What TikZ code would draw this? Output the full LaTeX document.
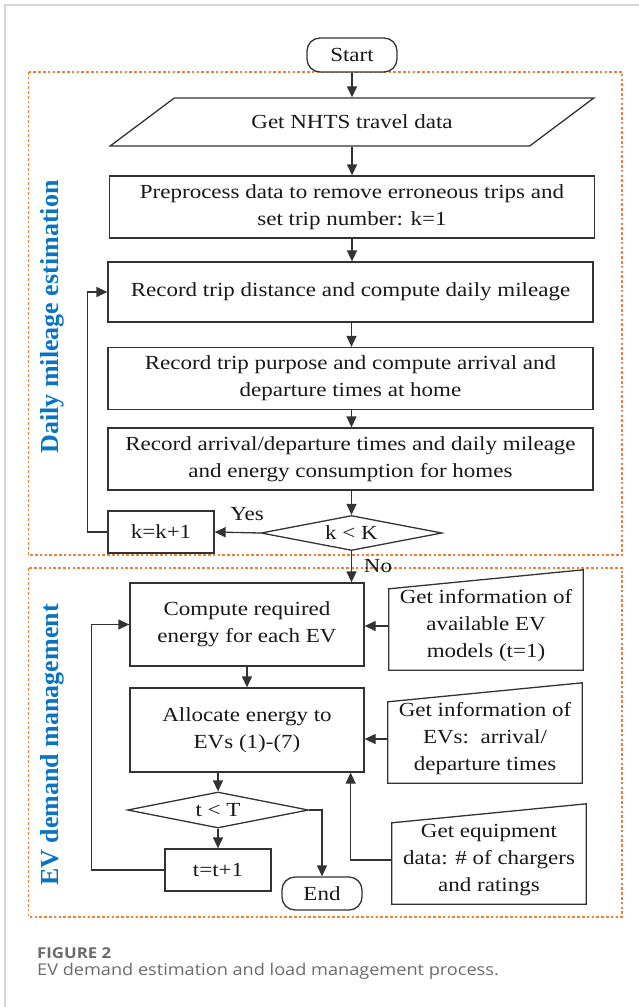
\documentclass[tikz,border=0pt]{standalone}
\usepackage{fontspec}
\setmainfont{Liberation Serif}[FakeStretch=1.15]
\newfontfamily\zonefont{Liberation Serif}
\newfontfamily\capfont{Open Sans}[FakeStretch=1.12]
\usepackage{xcolor}
\usepackage{tikz}
\usetikzlibrary{arrows.meta, positioning, shapes.geometric, calc}
\definecolor{ink}{HTML}{333333}
\definecolor{ocean}{HTML}{0A74C4}
\definecolor{tangerine}{HTML}{F07E3A}
\definecolor{mist}{HTML}{D6D6D6}
\definecolor{capgray}{HTML}{6B6B6B}

\begin{document}
\begin{tikzpicture}[x=1pt, y=-1pt,
      every node/.style={font=\fontsize{20}{27}\selectfont, text=black!90},
      proc/.style={draw=ink, line width=1.3pt, fill=white, minimum width=485pt,
                   minimum height=62pt, align=center, inner sep=2pt},
      task/.style={proc, minimum width=234pt, minimum height=83pt},
      incbox/.style={proc, minimum width=106pt, minimum height=42pt},
      term/.style={draw=ink, line width=1.3pt, fill=white, rounded corners=13pt,
                   minimum width=80pt, minimum height=33pt, inner sep=2pt},
      io/.style={trapezium, trapezium left angle=26, trapezium right angle=154,
                 trapezium stretches=true, draw=ink, line width=1.3pt, fill=white,
                 minimum width=485pt, minimum height=48pt, inner sep=2pt},
      test/.style={diamond, aspect=5, draw=ink, line width=1.3pt, fill=white,
                   minimum width=181pt, minimum height=35pt, inner sep=0pt},
      manin/.style={minimum width=194pt, minimum height=88pt, align=center, inner sep=2pt},
      zone/.style={draw=tangerine, line width=1.1pt, dash pattern=on 2.6pt off 2.2pt},
      zonelabel/.style={rotate=90, text=ocean, font=\zonefont\bfseries\fontsize{26}{30}\selectfont},
      caption/.style={anchor=base west, inner sep=0pt, text=capgray,
                      font=\capfont\fontsize{16.2}{19}\selectfont},
      arr/.style={-{Triangle[length=11pt, width=10pt]}, line width=1.3pt, draw=ink},
    ]
    \useasboundingbox (0,0) rectangle (639,1007);
    \draw[mist, line width=1.3pt] (5,1007) -- (5,5) -- (639,5);

    % the two stages
    \draw[zone] (28.5,72) rectangle (622,555);
    \draw[zone] (28.5,568) rectangle (622,917);
    \node[zonelabel] (daily) at (52,317) {Daily mileage estimation};
    \node[zonelabel] (evdm) at (52,745) {EV demand management};

    % daily mileage estimation
    \node[term, minimum width=90pt, minimum height=34pt] (start) at (352,55) {Start};
    \node[io] (nhts) at (352,122) {Get NHTS travel data};
    \node[proc] (prep) at (352,207) {Preprocess data to remove erroneous trips and\\set trip number: k=1};
    \node[proc, minimum height=60pt] (dist) at (350.5,292) {Record trip distance and compute daily mileage};
    \node[proc] (purp) at (350.5,378.5) {Record trip purpose and compute arrival and\\departure times at home};
    \node[proc] (home) at (350.5,459) {Record arrival/departure times and daily mileage\\and energy consumption for homes};
    \node[test] (kK) at (351.5,533) {k < K};
    \node[incbox] (kinc) at (161,532) {k=k+1};
    \node (yes) at (247,514) {Yes};
    \node (no) at (378,566) {No};

    \draw[arr] (start) -- (nhts);
    \draw[arr] (nhts.south) -- (nhts.south |- prep.north);
    \draw[arr] (prep.south) -- (prep.south |- dist.north);
    \draw[arr] (dist.south -| kK) -- (purp.north -| kK);
    \draw[arr] (purp.south -| kK) -- (home.north -| kK);
    \draw[arr] (home.south -| kK) -- (kK.north);
    \draw[arr] (kK.west) -- (kinc.east);
    \draw[arr] (kinc.west) -- ++(-20,0) |- (dist.west);

    % EV demand management
    \node[task] (comp) at (247,624.5) {Compute required\\energy for each EV};
    \node[task, minimum height=84pt] (alloc) at (247,730) {Allocate energy to\\EVs (1)-(7)};
    \node[test, minimum height=36pt] (tT) at (218,810) {t < T};
    \node[incbox] (tinc) at (218,870) {t=t+1};
    \node[term] (end) at (322,893.5) {End};
    \node[manin] (in1) at (486,626) {Get information of\\available EV\\models (t=1)};
    \node[manin] (in2) at (485,739) {Get information of\\EVs:\ \ arrival/\\departure times};
    \node[manin] (in3) at (489,860) {Get equipment\\data: \# of chargers\\and ratings};
    \foreach \n in {in1,in2,in3}
      \draw[ink, line width=1.3pt] (\n.south west) -- ([yshift=-7pt]\n.north west)
        -- ([yshift=12pt]\n.north east) -- (\n.south east) -- cycle;

    \draw[arr] (kK.south) -- (kK.south |- comp.north);
    \draw[arr] (comp) -- (alloc);
    \draw[arr] (in1.west) -- (in1.west -| comp.east);
    \draw[arr] (in2.west) -- (in2.west -| alloc.east);
    \draw[arr] (in3.west) -| ([xshift=-14pt]alloc.south east);
    \draw[arr] (alloc.south -| tT.north) -- (tT.north);
    \draw[arr] (tT.south) -- (tinc.north);
    \draw[arr] (tinc.west) -| ([xshift=-38pt]comp.west) -- (comp.west);
    \draw[arr] (tT.east) -| (end.north);

    % caption
    \node[caption, font=\capfont\bfseries\fontsize{15}{18}\selectfont] (fig) at (37,958) {FIGURE 2};
    \node[caption] (cap) at (37,975) {EV demand estimation and load management process.};
\end{tikzpicture}
\end{document}
